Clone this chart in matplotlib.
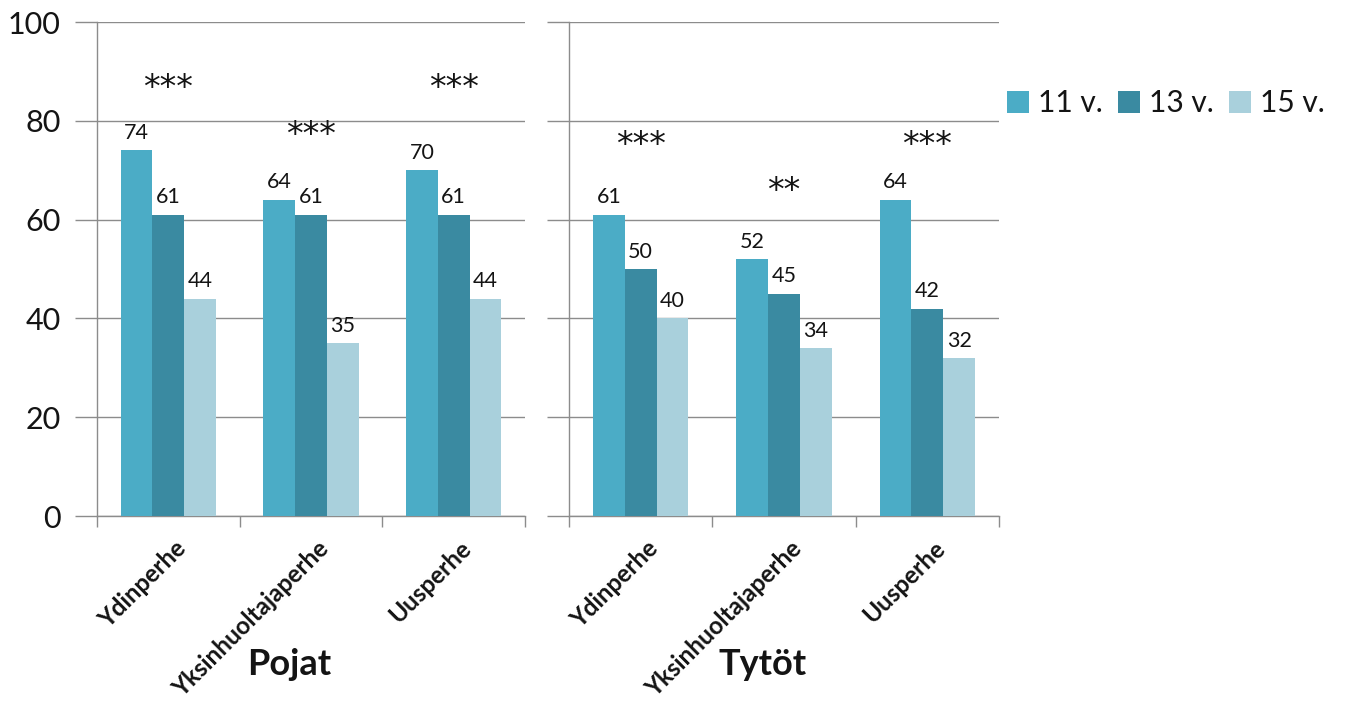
import matplotlib
matplotlib.use("Agg")
import matplotlib.pyplot as plt
from matplotlib.patches import Patch
import numpy as np

plt.rcParams['font.family'] = ['Lato', 'DejaVu Sans']

categories = ["Ydinperhe", "Yksinhuoltajaperhe", "Uusperhe"]
series = ["11 v.", "13 v.", "15 v."]
colors = ["#4bacc6", "#3a8aa1", "#a9d0dc"]

pojat_11 = [74, 64, 70]
pojat_13 = [61, 61, 61]
pojat_15 = [44, 35, 44]
pojat_stars = ["***", "***", "***"]
pojat_star_y = [88, 78.5, 88]

tytot_11 = [61, 52, 64]
tytot_13 = [50, 45, 42]
tytot_15 = [40, 34, 32]
tytot_stars = ["***", "**", "***"]
tytot_star_y = [76.5, 67, 76.5]

yticks = [0, 20, 40, 60, 80, 100]
grid_col = "#8c8c8c"
text_col = "#141414"

fig = plt.figure(figsize=(13.47, 7.12), dpi=100)
ax_l = fig.add_axes([97/1347, 1-516/712, (525-97)/1347, (516-22)/712])
ax_r = fig.add_axes([569/1347, 1-516/712, (999-569)/1347, (516-22)/712])


def draw_panel(ax, vals, stars, star_y, title, show_ylabels):
    x = np.arange(len(categories))
    w = 0.222
    for i, (v, c) in enumerate(zip(vals, colors)):
        pos = x + (i - 1) * w
        ax.bar(pos, v, width=w, color=c, zorder=3)
        for px, pv in zip(pos, v):
            ax.text(px, pv + 1.5, f"{pv}", ha="center", va="bottom",
                    fontsize=15.5, color=text_col, zorder=4)
    for xi, s, sy in zip(x, stars, star_y):
        ax.annotate(s, xy=(xi, sy), xytext=(0, -5), textcoords="offset points",
                    ha="center", va="center", fontsize=24,
                    color=text_col, family="DejaVu Sans")
    ax.set_xlim(-0.5, len(categories) - 0.5)
    ax.set_ylim(0, 100)
    ax.set_yticks(yticks)
    ax.yaxis.grid(True, color=grid_col, lw=1, zorder=0)
    ax.tick_params(axis="y", length=16, color=grid_col, width=1,
                   labelsize=22, pad=10, labelleft=show_ylabels,
                   labelcolor=text_col)
    ax.set_xticks(np.arange(len(categories) + 1) - 0.5, minor=False)
    ax.set_xticklabels([])
    ax.tick_params(axis="x", length=8, color=grid_col, width=1)
    for xi, cat in zip(x, categories):
        ax.annotate(cat, xy=(xi + 0.04, 0), xycoords=("data", "axes fraction"),
                    xytext=(0, -15), textcoords="offset points",
                    rotation=45, ha="right", va="top", rotation_mode="anchor",
                    fontsize=17.5, fontweight="bold", color=text_col)
    for side in ["top", "right"]:
        ax.spines[side].set_visible(False)
    for side in ["left", "bottom"]:
        ax.spines[side].set_color(grid_col)
        ax.spines[side].set_linewidth(1)
    ax.text(0.45, -0.3, title, transform=ax.transAxes, ha="center", va="center",
            fontsize=26, fontweight="bold", color=text_col)


draw_panel(ax_l, [pojat_11, pojat_13, pojat_15], pojat_stars, pojat_star_y, "Pojat", True)
draw_panel(ax_r, [tytot_11, tytot_13, tytot_15], tytot_stars, tytot_star_y, "Tytöt", False)

handles = [Patch(facecolor=c, edgecolor="none") for c in colors]
fig.legend(handles, series, loc="center left", bbox_to_anchor=(980/1347, 1-103/712),
           ncol=3, frameon=False, fontsize=21.5, handlelength=0.75, handleheight=0.75,
           handletextpad=0.3, columnspacing=0.5, labelcolor=text_col)

fig.savefig("out.png", dpi=100, facecolor="white")
